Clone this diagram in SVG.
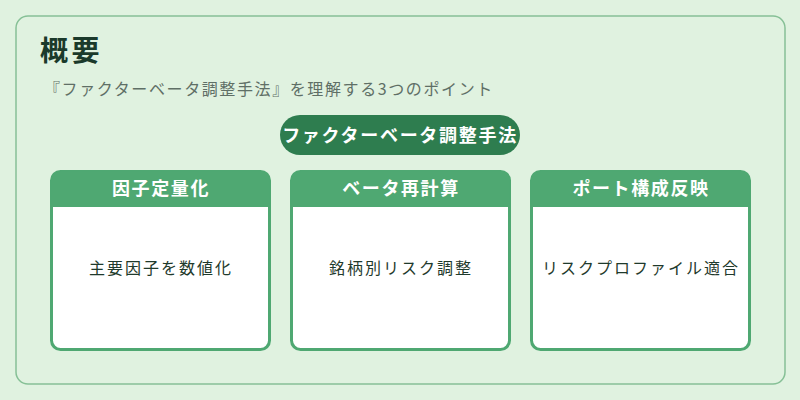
<svg xmlns="http://www.w3.org/2000/svg" width="800" height="400" viewBox="0 0 800 400">
<style>
text{font-family:"Noto Sans CJK JP","Noto Sans",sans-serif}
.card{fill:#ffffff;stroke:#4fa872;stroke-width:3}
.hdr{fill:#4fa872}
.ht{fill:#ffffff;font-size:18px;font-weight:bold;text-anchor:middle;letter-spacing:1.6px}
.bt{fill:#1f3a2c;font-size:16px;text-anchor:middle;letter-spacing:2px}
</style>
<rect x="0" y="0" width="800" height="400" fill="#e0f2e0"/>
<rect x="16" y="16" width="769" height="368" rx="12" fill="#e0f2e0" stroke="#86c096" stroke-width="1.5"/>
<text x="40" y="61" font-size="28" font-weight="bold" fill="#1b3a2b" letter-spacing="3.5">概要</text>
<text x="44" y="95" font-size="16" fill="#5f6f66" letter-spacing="1.6">『ファクターベータ調整手法』を理解する3つのポイント</text>
<g id="main">
<rect x="280" y="115" width="240" height="40" rx="20" fill="#2e7d4f"/>
<text x="400" y="142" fill="#ffffff" font-size="18" font-weight="bold" text-anchor="middle" letter-spacing="1.7">ファクターベータ調整手法</text>
</g>
<g id="connectors"></g>
<g id="n1">
<rect class="card" x="51.5" y="171.5" width="218" height="178" rx="9"/>
<path class="hdr" d="M51.5 207 V180.5 a9 9 0 0 1 9 -9 H260.5 a9 9 0 0 1 9 9 V207 Z"/>
<text class="ht" x="161" y="195">因子定量化</text>
<text class="bt" x="161" y="274">主要因子を数値化</text>
</g>
<g id="n2">
<rect class="card" x="291.5" y="171.5" width="218" height="178" rx="9"/>
<path class="hdr" d="M291.5 207 V180.5 a9 9 0 0 1 9 -9 H500.5 a9 9 0 0 1 9 9 V207 Z"/>
<text class="ht" x="401" y="195">ベータ再計算</text>
<text class="bt" x="401" y="274">銘柄別リスク調整</text>
</g>
<g id="n3">
<rect class="card" x="531.5" y="171.5" width="218" height="178" rx="9"/>
<path class="hdr" d="M531.5 207 V180.5 a9 9 0 0 1 9 -9 H740.5 a9 9 0 0 1 9 9 V207 Z"/>
<text class="ht" x="641" y="195">ポート構成反映</text>
<text class="bt" x="641" y="274">リスクプロファイル適合</text>
</g>
</svg>
